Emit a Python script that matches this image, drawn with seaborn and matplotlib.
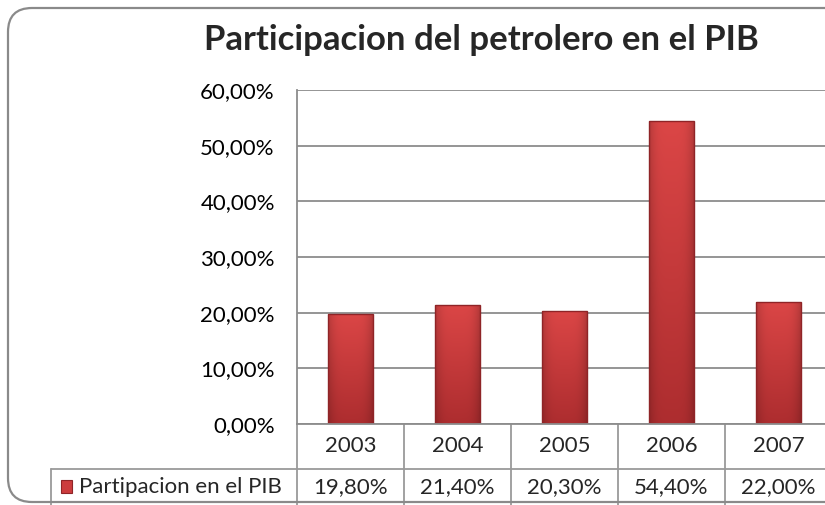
import matplotlib
matplotlib.use("Agg")
import matplotlib.pyplot as plt
import matplotlib.transforms as mtransforms
from matplotlib.colors import to_rgb
from matplotlib.patches import FancyBboxPatch, Rectangle
from matplotlib.ticker import FuncFormatter, MultipleLocator
import numpy as np
import pandas as pd
import seaborn as sns

# data
years = ["2003", "2004", "2005", "2006", "2007"]
share = [0.198, 0.214, 0.203, 0.544, 0.220]
series_name = "Partipacion en el PIB"
title = "Participacion del petrolero en el PIB"

df = pd.DataFrame({"year": years, "share": share})

sns.set_style("white")
plt.rcParams["font.family"] = ["Lato", "DejaVu Sans"]

W, H = 825, 505
fig = plt.figure(figsize=(W / 100, H / 100), dpi=100)

# rounded chart-area frame
frame = FancyBboxPatch((8, 3), 900, H - 11, boxstyle="round,pad=0,rounding_size=24",
                       transform=mtransforms.IdentityTransform(), fill=False,
                       edgecolor="#8a8a8a", linewidth=1.6)
fig.patches.append(frame)

ax = fig.add_axes([297 / W, (H - 424) / H, 535 / W, 334 / H])
bar_color = "#c63a3c"
sns.barplot(data=df, x="year", y="share", color=bar_color, width=0.42,
            saturation=1, edgecolor="#8f2427", linewidth=1.0, ax=ax)

# shaded fill on each bar (lighter top, darker bottom and sides)
top_c = np.array(to_rgb("#db4646"))
bot_c = np.array(to_rgb("#ad2d2f"))
for bar in ax.patches:
    x0, y0 = bar.get_x(), bar.get_y()
    w, h = bar.get_width(), bar.get_height()
    t = np.linspace(0, 1, 100)[:, None, None]
    grad = top_c * (1 - t) + bot_c * t
    s = np.linspace(-1, 1, 40)
    side = (1 - 0.18 * np.abs(s) ** 4)[None, :, None]
    img = np.clip(grad * side, 0, 1)
    im = ax.imshow(img, extent=(x0, x0 + w, y0, y0 + h), origin="upper",
                   aspect="auto", zorder=bar.get_zorder() + 0.1)
    im.set_clip_path(bar)
    bar.set_zorder(bar.get_zorder() + 0.2)
    bar.set_facecolor("none")

ax.set_xlim(-0.5, 4.5)
ax.set_ylim(0, 0.6)
ax.yaxis.set_major_locator(MultipleLocator(0.1))
ax.yaxis.set_major_formatter(FuncFormatter(lambda v, p: f"{v * 100:.2f}%".replace(".", ",")))
ax.tick_params(axis="y", length=0, pad=16, labelsize=16, colors="black")
ax.set_xticks([])
ax.set_xlabel("")
ax.set_ylabel("")
ax.grid(axis="y", color="#8c8c8c", linewidth=1.3)
ax.set_axisbelow(True)
for s in ["top", "right"]:
    ax.spines[s].set_visible(False)
for s in ["left", "bottom"]:
    ax.spines[s].set_color("#8c8c8c")
    ax.spines[s].set_linewidth(1.3)

fig.text(481 / W, 1 - 40 / H, title, ha="center", va="center",
         fontsize=25, fontweight="bold")

# data table under the plot
line_kw = dict(color="#9a9a9a", linewidth=1.3, clip_on=False)
row1_bot = -45 / 334
row2_bot = -0.3
tr = ax.get_xaxis_transform()
ax.plot([-0.46, 1.1], [row1_bot, row1_bot], transform=ax.transAxes, **line_kw)
ax.plot([-0.46, -0.46], [row1_bot, row2_bot], transform=ax.transAxes, **line_kw)
ax.plot([0, 0], [0, row2_bot], transform=ax.transAxes, **line_kw)
for i in range(len(years) - 1):
    ax.plot([i + 0.5, i + 0.5], [0, row2_bot], transform=tr, **line_kw)
for i, (yr, v) in enumerate(zip(years, share)):
    ax.text(i, row1_bot / 2, yr, transform=tr, ha="center", va="center", fontsize=16)
    ax.text(i, (row1_bot - 0.2425) / 2, f"{v * 100:.2f}%".replace(".", ","),
            transform=tr, ha="center", va="center", fontsize=16)

# legend key + label in the table
ax.add_patch(Rectangle((-0.442, -0.207), 0.022, 0.038, transform=ax.transAxes,
                       facecolor="#cc3c3e", edgecolor="#8f2427", linewidth=0.8, clip_on=False))
ax.text(-0.408, (row1_bot - 0.2425) / 2, series_name, transform=ax.transAxes,
        ha="left", va="center", fontsize=16)

fig.savefig("out.png", dpi=100)
